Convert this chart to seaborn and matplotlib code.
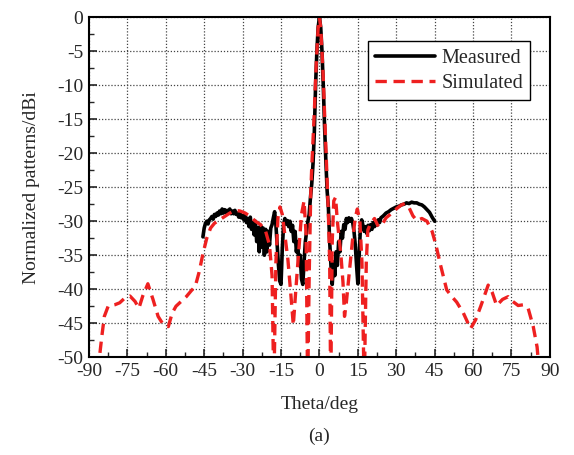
import seaborn as sns
import matplotlib.pyplot as plt
import pandas as pd
from matplotlib.ticker import MultipleLocator

# Measured pattern (black solid)
theta_meas = [-45.5, -45, -44.5, -44, -43.5, -43, -42.5, -42, -41.5, -41, -40.5, -40,
              -39.5, -39, -38.5, -38, -37.5, -37, -36.5, -36, -35.5, -35, -34.5, -34,
              -33.5, -33, -32.5, -32, -31.5, -31, -30.5,
              -30, -29.5, -29, -28.5, -28, -27.5, -27, -26.5, -26, -25.5, -25, -24.5,
              -24, -23.5, -23, -22.5, -22, -21.5, -21, -20.5, -20, -19.5, -19, -18.5,
              -18, -17.5, -17, -16.5, -16, -15.5, -15, -14.5, -14, -13.5, -13, -12.5,
              -12, -11.5, -11, -10.5, -10, -9.5, -9, -8.5, -8, -7.5, -7, -6.5, -6,
              -5.5, -5, -4.5, -4, -3.5, -3, -2.5, -2, -1.5, -1, -0.5, 0,
              0.5, 1, 1.5, 2, 2.5, 3, 3.5, 4, 4.5, 5, 5.5, 6, 6.5, 7, 7.5, 8, 8.5, 9,
              9.5, 10, 10.5, 11, 11.5, 12, 12.5, 13, 13.5, 14, 14.5, 15, 15.5, 16,
              16.5, 17, 17.5, 18, 18.5, 19, 19.5, 20, 20.5, 21, 21.5, 22, 22.5, 23,
              23.5, 24, 25, 26, 27, 28, 29, 30, 31, 32, 33, 34, 35, 36, 37, 38, 39,
              40, 41, 42, 43, 44, 45]
gain_meas = [-32.3, -31.0, -30.3, -30.0, -30.4, -29.8, -29.6, -29.3, -29.7, -29.0, -29.3,
             -28.8, -29.1, -28.5, -28.9, -28.2, -28.8, -28.3, -28.7, -28.4, -28.8, -28.2,
             -28.9, -28.5, -28.9, -28.4, -29.0, -28.8, -29.4, -28.7, -29.5,
             -29.2, -29.8, -29.0, -30.2, -29.6, -30.8, -29.4, -31.2, -30.2, -32.0, -30.0,
             -33.0, -31.0, -34.5, -30.6, -33.8, -31.0, -35.0, -31.2, -34.5, -31.5, -33.5,
             -31.0, -30.5, -29.5, -28.6, -30.5, -33.5, -36.5, -38.8, -39.3, -34.0, -30.5,
             -29.6, -30.4, -29.9, -30.8, -30.0, -31.5, -30.6, -33.0, -31.5, -34.5, -33.0,
             -36.5, -35.0, -38.5, -39.3, -36.0, -33.0, -31.5, -30.0, -29.0, -26.5, -24.5,
             -21.5, -17.0, -10.0, -5.0, -1.5, 0.0,
             -1.5, -5.0, -10.0, -16.0, -21.0, -25.5, -28.0, -33.0, -36.5, -39.3, -36.0,
             -38.0, -34.5, -36.5, -33.0, -34.5, -31.5, -32.5, -30.5, -31.2, -29.6, -30.2,
             -29.5, -30.0, -29.6, -30.2, -31.5, -33.5, -36.5, -39.2, -35.0, -31.0, -29.8,
             -30.6, -31.5, -30.8, -31.8, -30.6, -31.4, -30.5, -31.2, -30.2, -30.8, -30.0,
             -30.6, -29.8, -30.2, -29.5, -29.2, -28.8, -28.6, -28.3, -28.1, -27.9, -27.8,
             -27.6, -27.5, -27.3, -27.4, -27.2, -27.3, -27.3, -27.5, -27.6, -27.9, -28.3,
             -28.7, -29.4, -30.0]

# Simulated pattern (red dashed)
theta_sim = [-86.5, -85, -84, -82.5, -80, -78, -76, -74, -72, -70.5, -69, -67, -65, -63,
             -61, -59, -57.5, -56, -54, -52, -50, -48.5, -47, -45.5, -44, -42.5, -41,
             -39, -37, -35, -33, -31, -29, -27, -25, -23, -21, -19.5, -18.5, -17.8, -17,
             -16.2, -15.4, -14.5, -13.5, -12.3, -11.2, -10.2, -9.2, -8.2, -7, -6, -5.2,
             -4.6, -4, -3.4, -3, -2.5, -2, -1.5, -1, -0.5, 0, 0.5, 1, 1.5, 2, 2.5, 3,
             3.5, 4, 4.4, 5, 5.6, 6.3, 7, 8.4, 9.2, 9.8, 10.5, 11.8, 13, 14, 14.8, 15.8,
             16.6, 17.5, 18.3, 18.9, 20, 21.5, 23, 24.5, 26, 28, 30, 32, 33.4, 35, 36.5,
             38, 40, 42, 44, 45.5, 47, 49.7, 51.5, 53.6, 56.2, 59, 61, 63, 65.9, 67.5,
             69.2, 71.5, 73.7, 75.5, 77.6, 79.5, 81.5, 83.5, 85, 85.8]
gain_sim = [-52, -47, -44, -42.5, -42.3, -42.0, -41.3, -41.0, -41.8, -42.8, -41.0, -39.2,
            -41.5, -44.0, -45.2, -45.5, -43.5, -42.5, -41.8, -41.1, -40.2, -39.6, -37.5,
            -34.8, -32.5, -31.0, -30.3, -29.8, -29.3, -28.8, -28.4, -28.5, -28.8, -29.3,
            -30.0, -30.5, -31.5, -33.5, -38.0, -55, -36.0, -29.5, -27.9, -29.0, -32.0,
            -35.7, -40.6, -45.3, -40.0, -35.0, -29.0, -27.0, -32.0, -55, -38.0, -26.0,
            -22.0, -18.0, -14.0, -9.0, -5.0, -1.5, 0.0, -1.5, -5.0, -9.0, -14.0, -19.0,
            -24.0, -29.0, -36.0, -55, -33.0, -27.0, -26.5, -30.0, -35.0, -39.0, -44.0,
            -42.0, -37.0, -32.5, -29.5, -28.2, -30.0, -36.0, -55, -36.0, -31.3, -30.3,
            -29.6, -30.8, -30.5, -29.5, -28.9, -28.2, -27.6, -27.4, -28.0, -29.2, -29.9,
            -29.6, -30.0, -31.5, -33.5, -36.0, -40.1, -41.0, -41.9, -43.5, -45.8, -44.5,
            -42.5, -39.4, -40.5, -42.4, -41.5, -41.1, -41.8, -42.4, -42.3, -42.8, -45.5,
            -48.5, -52]

df_meas = pd.DataFrame({"theta": theta_meas, "gain": gain_meas})
df_sim = pd.DataFrame({"theta": theta_sim, "gain": gain_sim})

sns.set_style("ticks")
plt.rcParams['font.family'] = ['Liberation Serif', 'DejaVu Serif']
plt.rcParams['axes.unicode_minus'] = False

fig = plt.figure(figsize=(5.74, 4.55), dpi=100)
ax = fig.add_axes([0.155, 0.215, 0.803, 0.747])

sns.lineplot(data=df_meas, x="theta", y="gain", estimator=None, sort=False,
             color="black", linewidth=2.6, label="Measured", ax=ax)
sns.lineplot(data=df_sim, x="theta", y="gain", estimator=None, sort=False,
             color="#ee2020", linewidth=2.4, label="Simulated", ax=ax)
ax.lines[1].set_linestyle((0, (3.4, 2.0)))

ax.set_xlim(-90, 90)
ax.set_ylim(-50, 0)
ax.xaxis.set_major_locator(MultipleLocator(15))
ax.xaxis.set_minor_locator(MultipleLocator(7.5))
ax.yaxis.set_major_locator(MultipleLocator(5))
ax.yaxis.set_minor_locator(MultipleLocator(2.5))
ax.tick_params(which='major', direction='in', length=6, width=1.2, labelsize=14,
               top=False, right=False, pad=4)
ax.tick_params(which='minor', direction='in', length=3.5, width=1.0,
               top=False, right=False)
ax.grid(which='major', linestyle=(0, (1.0, 1.5)), color='#444444', linewidth=0.9)

for spine in ['top', 'bottom', 'left', 'right']:
    ax.spines[spine].set_visible(True)
    ax.spines[spine].set_color('black')
    ax.spines[spine].set_linewidth(1.5)

ax.set_xlabel("Theta/deg", fontsize=14, labelpad=12)
ax.set_ylabel("Normalized patterns/dBi", fontsize=14, labelpad=12)

leg = ax.legend(loc='upper right', bbox_to_anchor=(0.957, 0.929), borderaxespad=0,
                fontsize=14.5, fancybox=False, framealpha=1, edgecolor='black',
                handlelength=3.0, handletextpad=0.3, borderpad=0.35, labelspacing=0.3)
leg.get_frame().set_linewidth(1.0)

fig.text(0.556, 0.04, "(a)", ha='center', va='center', fontsize=14)

plt.savefig("out.png", dpi=100)
